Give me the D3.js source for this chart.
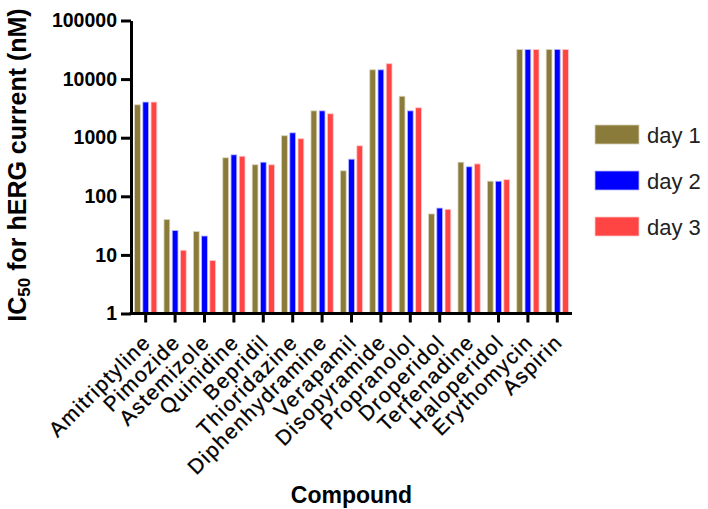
<!DOCTYPE html>
<html>
<head>
<meta charset="utf-8">
<script src="https://cdn.jsdelivr.net/npm/d3@7"></script>
<style>
  html, body { margin: 0; padding: 0; background: #fff; }
  svg { display: block; font-family: "Liberation Sans", Arial, sans-serif; }
</style>
</head>
<body>
<svg id="chart" width="708" height="509"></svg>
<script>
const categories = ["Amitriptyline", "Pimozide", "Astemizole", "Quinidine", "Bepridil",
  "Thioridazine", "Diphenhydramine", "Verapamil", "Disopyramide", "Propranolol",
  "Droperidol", "Terfenadine", "Haloperidol", "Erythomycin", "Aspirin"];
const seriesNames = ["day 1", "day 2", "day 3"];
const day1 = [3640, 40, 25, 454, 345, 1080, 2870, 272, 14400, 5100, 50, 382, 181, 32000, 32000];
const day2 = [4060, 26, 21, 510, 382, 1210, 2870, 430, 14400, 2870, 63, 319, 181, 32000, 32000];
const day3 = [4060, 12, 8, 483, 345, 960, 2560, 727, 18300, 3240, 60, 357, 192, 32000, 32000];
const yTicks = [1, 10, 100, 1000, 10000, 100000];
const colors = ["#8B7B3A", "#0000FF", "#FF4444"];
const strokes = ["#d8d2b8", "#b8b8ff", "#ffc8c8"];

const seriesValues = [day1, day2, day3];

const svg = d3.select("#chart");
const mLeft = 131, mRight = 572, mTop = 20.5, mBottom = 313.5;

const x = d3.scaleBand().domain(categories).range([mLeft, mRight]).paddingInner(0).paddingOuter(0);
const x1 = d3.scaleBand().domain(seriesNames).range([3.6, x.bandwidth() - 3.6]).paddingInner(0.3).paddingOuter(0);
const y = d3.scaleLog().domain([1, 100000]).range([mBottom, mTop]);

// bars
seriesNames.forEach((s, si) => {
  svg.append("g").selectAll("rect")
    .data(categories.map((c, i) => ({c, v: seriesValues[si][i]})))
    .join("rect")
    .attr("x", d => x(d.c) + x1(s))
    .attr("width", x1.bandwidth())
    .attr("y", d => y(d.v))
    .attr("height", d => mBottom - y(d.v))
    .attr("fill", colors[si])
    .attr("stroke", strokes[si])
    .attr("stroke-width", 0.8);
});

// y axis
const yAxis = svg.append("g")
  .attr("transform", `translate(${mLeft},0)`)
  .call(d3.axisLeft(y).tickValues(yTicks).tickFormat(d3.format("d")).tickSize(10).tickSizeOuter(0).tickPadding(4));
yAxis.select(".domain").attr("stroke", "#000").attr("stroke-width", 3);
yAxis.selectAll(".tick line").attr("stroke", "#000").attr("stroke-width", 3);
yAxis.selectAll(".tick text")
  .attr("font-size", 19.5).attr("font-weight", "bold").attr("fill", "#000")
  .attr("font-family", "'Liberation Sans', Arial, sans-serif");

// x axis
const xAxis = svg.append("g")
  .attr("transform", `translate(0,${mBottom})`)
  .call(d3.axisBottom(x).tickSize(9).tickSizeOuter(0));
xAxis.select(".domain").attr("stroke", "#000").attr("stroke-width", 3)
  .attr("d", `M${mLeft - 1.5},0H${mRight}`);
xAxis.selectAll(".tick line").attr("stroke", "#000").attr("stroke-width", 3);
xAxis.selectAll(".tick text")
  .attr("font-size", 21).attr("fill", "#000")
  .attr("stroke", "#000").attr("stroke-width", 0.3)
  .attr("letter-spacing", 1.5)
  .attr("font-family", "'Liberation Sans', Arial, sans-serif")
  .attr("text-anchor", "end")
  .attr("y", 0).attr("dy", 0)
  .attr("transform", "translate(6.5,30) rotate(-45)");

// y title
const yt = svg.append("text")
  .attr("transform", `translate(26,${(mTop + mBottom) / 2 - 2}) rotate(-90)`)
  .attr("text-anchor", "middle")
  .attr("font-size", 25).attr("font-weight", "bold").attr("fill", "#000");
yt.append("tspan").text("IC");
yt.append("tspan").attr("font-size", 17).attr("dy", 4).text("50");
yt.append("tspan").attr("dy", -4).text(" for hERG current (nM)");

// x title
svg.append("text")
  .attr("x", (mLeft + mRight) / 2).attr("y", 503)
  .attr("text-anchor", "middle")
  .attr("font-size", 23).attr("font-weight", "bold").attr("fill", "#000")
  .text("Compound");

// legend
const lg = svg.append("g");
seriesNames.forEach((s, i) => {
  const yy = 125 + i * 46;
  lg.append("rect").attr("x", 595).attr("y", yy).attr("width", 44).attr("height", 19)
    .attr("fill", colors[i]).attr("stroke", strokes[i]).attr("stroke-width", 0.8);
  lg.append("text").attr("x", 647).attr("y", yy + 18)
    .attr("font-size", 22).attr("fill", "#222").text(s);
});
</script>
</body>
</html>
